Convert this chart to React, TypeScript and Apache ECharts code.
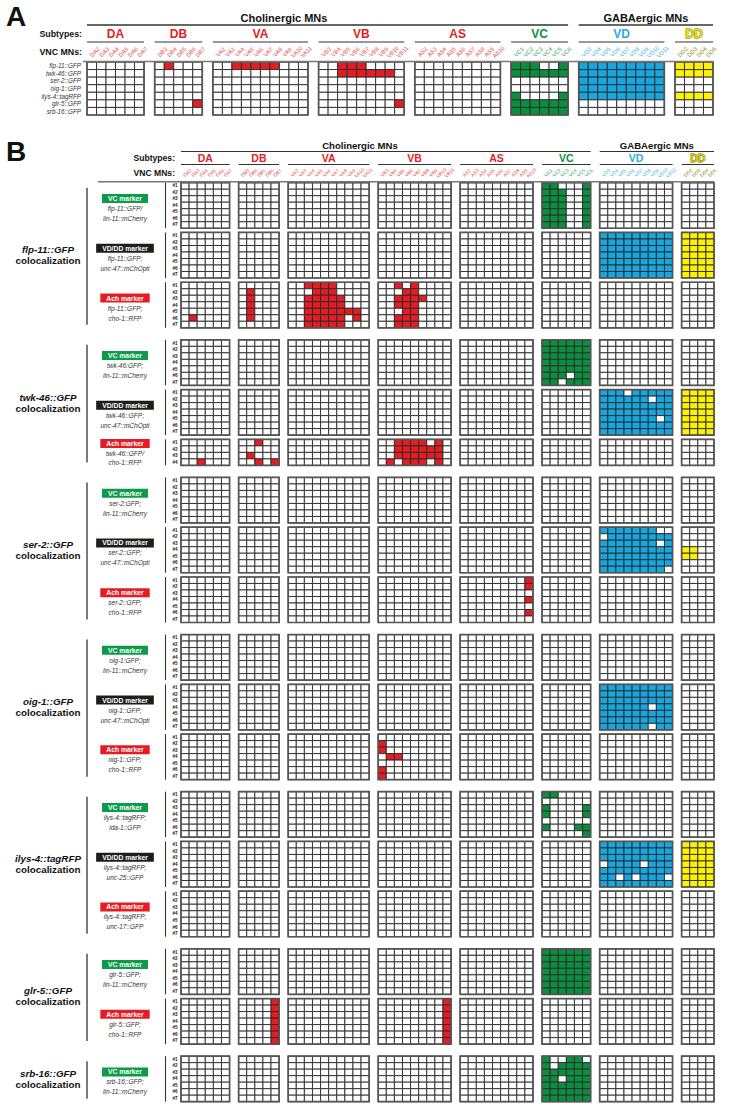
import { useEffect, useRef } from "react";
import * as echarts from "echarts";

// ---------- categories ----------
const SUBTYPES = ["DA", "DB", "VA", "VB", "AS", "VC", "VD", "DD"];
const DA_MNS = ["DA2", "DA3", "DA4", "DA5", "DA6", "DA7"];
const DB_MNS = ["DB3", "DB4", "DB5", "DB6", "DB7"];
const VA_MNS = ["VA2", "VA3", "VA4", "VA5", "VA6", "VA7", "VA8", "VA9", "VA10", "VA11"];
const VB_MNS = ["VB3", "VB4", "VB5", "VB6", "VB7", "VB8", "VB9", "VB10", "VB11"];
const AS_MNS = ["AS2", "AS3", "AS4", "AS5", "AS6", "AS7", "AS8", "AS9", "AS10"];
const VC_MNS = ["VC1", "VC2", "VC3", "VC4", "VC5", "VC6"];
const VD_MNS = ["VD3", "VD4", "VD5", "VD6", "VD7", "VD8", "VD9", "VD10", "VD11"];
const DD_MNS = ["DD2", "DD3", "DD4", "DD5"];
const MNS = [DA_MNS, DB_MNS, VA_MNS, VB_MNS, AS_MNS, VC_MNS, VD_MNS, DD_MNS];

// ---------- panel A ----------
const PANEL_A_REPORTERS = ["flp-11::GFP", "twk-46::GFP", "ser-2::GFP", "oig-1::GFP", "ilys-4::tagRFP", "glr-5::GFP", "srb-16::GFP"];
// segments: DA DB VA VB AS VC VD DD ; '#' = expressed
const PANEL_A_CELLS = [
  "...... .#... ..#####... ..###.... ......... ###..# ######### ####",
  "...... ..... .......... ..######. ......... ###### ######### ####",
  "...... ..... .......... ......... ......... ...... ######### ....",
  "...... ..... .......... ......... ......... ...... ######### ....",
  "...... ..... .......... ......... ......... #....# ######### ####",
  "...... ....# .......... ........# ......... ###### ......... ....",
  "...... ..... .......... ......... ......... ###### ......... ....",
];

// ---------- panel B ----------
const EMPTY_ROW = "...... ..... .......... ......... ......... ...... ......... ....";
const FLP11_VC = [
  "...... ..... .......... ......... ......... ##...# ......... ....",
  "...... ..... .......... ......... ......... ###..# ......... ....",
  "...... ..... .......... ......... ......... ###..# ......... ....",
  "...... ..... .......... ......... ......... ###..# ......... ....",
  "...... ..... .......... ......... ......... ###..# ......... ....",
  "...... ..... .......... ......... ......... ###..# ......... ....",
  "...... ..... .......... ......... ......... ###..# ......... ....",
];
const FLP11_VDDD = [
  "...... ..... .......... ......... ......... ...... ######### ####",
  "...... ..... .......... ......... ......... ...... ######### ####",
  "...... ..... .......... ......... ......... ...... ######### ####",
  "...... ..... .......... ......... ......... ...... ######### ####",
  "...... ..... .......... ......... ......... ...... ######### ####",
  "...... ..... .......... ......... ......... ...... ######### ####",
  "...... ..... .......... ......... ......... ...... ######### ####",
];
const FLP11_ACH = [
  "...... ..... ..####.... ..#.#.... ......... ...... ......... ....",
  "...... .#... ...###.... ...##.... ......... ...... ......... ....",
  "...... .#... ..#####... ..####... ......... ...... ......... ....",
  "...... .#... ..#####... ..###.... ......... ...... ......... ....",
  "...... .#... ..#######. ...##.... ......... ...... ......... ....",
  ".#.... .#... ..#####.#. ..###.... ......... ...... ......... ....",
  "...... ..... ..#####... ..###.... ......... ...... ......... ....",
];
const TWK46_VC = [
  "...... ..... .......... ......... ......... ###### ......... ....",
  "...... ..... .......... ......... ......... ###### ......... ....",
  "...... ..... .......... ......... ......... ###### ......... ....",
  "...... ..... .......... ......... ......... ###### ......... ....",
  "...... ..... .......... ......... ......... ###### ......... ....",
  "...... ..... .......... ......... ......... ###.## ......... ....",
  "...... ..... .......... ......... ......... ##.### ......... ....",
];
const TWK46_VDDD = [
  "...... ..... .......... ......... ......... ...... ###.##### ####",
  "...... ..... .......... ......... ......... ...... ######.## ####",
  "...... ..... .......... ......... ......... ...... ######### ####",
  "...... ..... .......... ......... ......... ...... ######### ####",
  "...... ..... .......... ......... ......... ...... #######.# ####",
  "...... ..... .......... ......... ......... ...... ######### ####",
  "...... ..... .......... ......... ......... ...... ######### ####",
];
const TWK46_ACH = [
  "...... ..#.. .......... ..####.#. ......... ...... ......... ....",
  "...... ..... .......... ..######. ......... ...... ......... ....",
  "...... .#... .......... ..######. ......... ...... ......... ....",
  "..#... ..#.# .......... .#.###.#. ......... ...... ......... ....",
];
const SER2_VC = [EMPTY_ROW, EMPTY_ROW, EMPTY_ROW, EMPTY_ROW, EMPTY_ROW, EMPTY_ROW, EMPTY_ROW];
const SER2_VDDD = [
  "...... ..... .......... ......... ......... ...... #######.. ....",
  "...... ..... .......... ......... ......... ...... .######## ....",
  "...... ..... .......... ......... ......... ...... #######.# ....",
  "...... ..... .......... ......... ......... ...... ######### ##..",
  "...... ..... .......... ......... ......... ...... ######### ##..",
  "...... ..... .......... ......... ......... ...... ######### ....",
  "...... ..... .......... ......... ......... ...... ########. ....",
];
const SER2_ACH = [
  "...... ..... .......... ......... ........# ...... ......... ....",
  "...... ..... .......... ......... ........# ...... ......... ....",
  "...... ..... .......... ......... ......... ...... ......... ....",
  "...... ..... .......... ......... ........# ...... ......... ....",
  "...... ..... .......... ......... ......... ...... ......... ....",
  "...... ..... .......... ......... ........# ...... ......... ....",
  "...... ..... .......... ......... ......... ...... ......... ....",
];
const OIG1_VC = [EMPTY_ROW, EMPTY_ROW, EMPTY_ROW, EMPTY_ROW, EMPTY_ROW, EMPTY_ROW, EMPTY_ROW];
const OIG1_VDDD = [
  "...... ..... .......... ......... ......... ...... ######### ....",
  "...... ..... .......... ......... ......... ...... ######### ....",
  "...... ..... .......... ......... ......... ...... ######### ....",
  "...... ..... .......... ......... ......... ...... ######.## ....",
  "...... ..... .......... ......... ......... ...... ######### ....",
  "...... ..... .......... ......... ......... ...... ######### ....",
  "...... ..... .......... ......... ......... ...... ######.## ....",
];
const OIG1_ACH = [
  "...... ..... .......... ......... ......... ...... ......... ....",
  "...... ..... .......... #........ ......... ...... ......... ....",
  "...... ..... .......... #........ ......... ...... ......... ....",
  "...... ..... .......... .##...... ......... ...... ......... ....",
  "...... ..... .......... ......... ......... ...... ......... ....",
  "...... ..... .......... #........ ......... ...... ......... ....",
  "...... ..... .......... #........ ......... ...... ......... ....",
];
const ILYS4_VC = [
  "...... ..... .......... ......... ......... ##.... ......... ....",
  "...... ..... .......... ......... ......... ...... ......... ....",
  "...... ..... .......... ......... ......... #....# ......... ....",
  "...... ..... .......... ......... ......... #....# ......... ....",
  "...... ..... .......... ......... ......... ...... ......... ....",
  "...... ..... .......... ......... ......... #...## ......... ....",
  "...... ..... .......... ......... ......... .....# ......... ....",
];
const ILYS4_VDDD = [
  "...... ..... .......... ......... ......... ...... ######### ####",
  "...... ..... .......... ......... ......... ...... ######### ####",
  "...... ..... .......... ......... ......... ...... ######### ####",
  "...... ..... .......... ......... ......... ...... .####.### ####",
  "...... ..... .......... ......... ......... ...... ######### ####",
  "...... ..... .......... ......... ......... ...... ##.#.###. ####",
  "...... ..... .......... ......... ......... ...... ######### ####",
];
const ILYS4_ACH = [EMPTY_ROW, EMPTY_ROW, EMPTY_ROW, EMPTY_ROW, EMPTY_ROW, EMPTY_ROW, EMPTY_ROW];
const GLR5_VC = [
  "...... ..... .......... ......... ......... ###### ......... ....",
  "...... ..... .......... ......... ......... ###### ......... ....",
  "...... ..... .......... ......... ......... ###### ......... ....",
  "...... ..... .......... ......... ......... ###### ......... ....",
  "...... ..... .......... ......... ......... ###### ......... ....",
  "...... ..... .......... ......... ......... ###### ......... ....",
  "...... ..... .......... ......... ......... ###### ......... ....",
];
const GLR5_ACH = [
  "...... ....# .......... ........# ......... ...... ......... ....",
  "...... ....# .......... ........# ......... ...... ......... ....",
  "...... ....# .......... ........# ......... ...... ......... ....",
  "...... ....# .......... ........# ......... ...... ......... ....",
  "...... ....# .......... ........# ......... ...... ......... ....",
  "...... ....# .......... ........# ......... ...... ......... ....",
  "...... ....# .......... ........# ......... ...... ......... ....",
];
const SRB16_VC = [
  "...... ..... .......... ......... ......... #..##. ......... ....",
  "...... ..... .......... ......... ......... #.#### ......... ....",
  "...... ..... .......... ......... ......... ###### ......... ....",
  "...... ..... .......... ......... ......... ##.### ......... ....",
  "...... ..... .......... ......... ......... ###### ......... ....",
  "...... ..... .......... ......... ......... ###### ......... ....",
  "...... ..... .......... ......... ......... ###### ......... ....",
];

const GROUP_NAMES = ["flp-11::GFP", "twk-46::GFP", "ser-2::GFP", "oig-1::GFP", "ilys-4::tagRFP", "glr-5::GFP", "srb-16::GFP"];
const BLOCK_CELLS = [FLP11_VC, FLP11_VDDD, FLP11_ACH, TWK46_VC, TWK46_VDDD, TWK46_ACH, SER2_VC, SER2_VDDD, SER2_ACH,
  OIG1_VC, OIG1_VDDD, OIG1_ACH, ILYS4_VC, ILYS4_VDDD, ILYS4_ACH, GLR5_VC, GLR5_ACH, SRB16_VC];
const BLOCK_GROUP = [0, 0, 0, 1, 1, 1, 2, 2, 2, 3, 3, 3, 4, 4, 4, 5, 5, 6];
const BLOCK_MARKER = ["VC", "VDDD", "ACH", "VC", "VDDD", "ACH", "VC", "VDDD", "ACH", "VC", "VDDD", "ACH", "VC", "VDDD", "ACH", "VC", "ACH", "VC"];
const BLOCK_LINE1 = ["flp-11::GFP/", "flp-11::GFP;", "flp-11::GFP;", "twk-46:GFP;", "twk-46::GFP;", "twk-46::GFP/", "ser-2:GFP;", "ser-2::GFP;", "ser-2::GFP;",
  "oig-1:GFP;", "oig-1::GFP;", "oig-1::GFP;", "ilys-4::tagRFP;", "ilys-4::tagRFP;", "ilys-4::tagRFP;", "glr-5::GFP;", "glr-5::GFP;", "srb-16::GFP;"];
const BLOCK_LINE2 = ["lin-11::mCherry", "unc-47::mChOpti", "cho-1::RFP", "lin-11::mCherry", "unc-47::mChOpti", "cho-1::RFP", "lin-11::mCherry", "unc-47::mChOpti", "cho-1::RFP",
  "lin-11::mCherry", "unc-47::mChOpti", "cho-1::RFP", "ida-1::GFP", "unc-25::GFP", "unc-17::GFP", "lin-11::mCherry", "cho-1::RFP", "lin-11::mCherry"];

// ---------- styling ----------
const FONT = "'Liberation Sans', Arial, Helvetica, sans-serif";
const RED = "#e41d25";
const GREEN = "#0b8f3f";
const BLUE = "#16a6e0";
const YELLOW = "#fff200";
const CELL_FILL = ["#ffffff", RED, GREEN, BLUE, YELLOW];
const SUBTYPE_FILL = [1, 1, 1, 1, 1, 2, 3, 4];
const SUBTYPE_TEXT = [RED, RED, RED, RED, RED, GREEN, "#29abe2", "#e8e000"];
const NEURON_TEXT = ["#ec4a52", "#ec4a52", "#ec4a52", "#ec4a52", "#ec4a52", "#2aa35a", "#3cb4e6", "#8c8a10"];
const MARKER_BG: Record<string, string> = { VC: "#0d9b4a", VDDD: "#1d1d1b", ACH: RED };
const MARKER_TEXT: Record<string, string> = { VC: "VC marker", VDDD: "VD/DD marker", ACH: "Ach marker" };

// ---------- layout ----------
const GAP = 1.12;
const COL_START: number[] = [];
let accX = 0;
MNS.forEach((m) => { COL_START.push(accX); accX += m.length + GAP; });
const X_MAX = accX - GAP;

const A_LEFT = 87, A_RIGHT = 713, A_TOP = 62, A_BOTTOM = 115;
const B_LEFT = 181, B_RIGHT = 714, B_TOP = 182.7, B_BOTTOM = 1101.7;
const INNER_GAP = 0.65, GROUP_GAP = 1.85;

const BLOCK_Y: number[] = [];
let accY = 0;
BLOCK_CELLS.forEach((rows, i) => {
  if (i > 0) accY += BLOCK_GROUP[i] === BLOCK_GROUP[i - 1] ? INNER_GAP : GROUP_GAP;
  BLOCK_Y.push(accY);
  accY += rows.length;
});
const Y_MAX_B = accY;

const xA = (u: number) => A_LEFT + (u * (A_RIGHT - A_LEFT)) / X_MAX;
const xB = (u: number) => B_LEFT + (u * (B_RIGHT - B_LEFT)) / X_MAX;
const yB = (v: number) => B_TOP + (v * (B_BOTTOM - B_TOP)) / Y_MAX_B;

function buildCells(rows: string[], y0: number, cells: number[][], frames: number[][]) {
  rows.forEach((row, r) => {
    const segs = row.split(" ");
    segs.forEach((seg, s) => {
      for (let c = 0; c < seg.length; c++) {
        cells.push([COL_START[s] + c, y0 + r, seg[c] === "#" ? SUBTYPE_FILL[s] : 0]);
      }
    });
  });
  MNS.forEach((m, s) => frames.push([COL_START[s], y0, m.length, rows.length]));
}

function txt(x: number, y: number, text: string, o: any = {}) {
  return {
    type: "text", x, y, silent: true, rotation: o.rotation || 0, z: 10,
    style: {
      text, fill: o.fill || "#111", fontSize: o.size || 8, fontFamily: FONT,
      fontWeight: o.bold ? "bold" : "normal", fontStyle: o.italic ? "italic" : "normal",
      align: o.align || "center", verticalAlign: o.va || "middle",
      stroke: o.stroke, lineWidth: o.lineWidth || 0,
      backgroundColor: o.bg, padding: o.padding,
    },
  };
}
function line(x1: number, y1: number, x2: number, y2: number, w = 1.2, c = "#333") {
  return { type: "line", silent: true, z: 10, shape: { x1, y1, x2, y2 }, style: { stroke: c, lineWidth: w } };
}

export default function App() {
  const ref = useRef<HTMLDivElement>(null);
  useEffect(() => {
    if (!ref.current) return;
    const chart = echarts.init(ref.current, undefined, { renderer: "svg", width: 729, height: 1115 });

    const cellsA: number[][] = [], framesA: number[][] = [];
    buildCells(PANEL_A_CELLS, 0, cellsA, framesA);
    const cellsB: number[][] = [], framesB: number[][] = [];
    BLOCK_CELLS.forEach((rows, i) => buildCells(rows, BLOCK_Y[i], cellsB, framesB));

    const cellRender = (_p: any, api: any) => {
      const x = api.value(0), y = api.value(1), f = api.value(2);
      const p0 = api.coord([x, y]);
      const p1 = api.coord([x + 1, y + 1]);
      return {
        type: "rect",
        shape: { x: p0[0], y: p0[1], width: p1[0] - p0[0], height: p1[1] - p0[1] },
        style: { fill: CELL_FILL[f], stroke: "#2a2a2a", lineWidth: 0.9 },
      };
    };
    const frameRender = (_p: any, api: any) => {
      const x = api.value(0), y = api.value(1), w = api.value(2), h = api.value(3);
      const p0 = api.coord([x, y]);
      const p1 = api.coord([x + w, y + h]);
      return {
        type: "rect",
        shape: { x: p0[0], y: p0[1], width: p1[0] - p0[0], height: p1[1] - p0[1] },
        style: { fill: "none", stroke: "#555", lineWidth: 1.7 },
      };
    };

    const g: any[] = [];
    // ---- Panel A header ----
    g.push(txt(6, 16, "A", { size: 28, bold: true, align: "left" }));
    g.push(txt(284, 18, "Cholinergic MNs", { size: 11, bold: true }));
    g.push(txt((xA(COL_START[6]) + A_RIGHT) / 2, 18, "GABAergic MNs", { size: 11, bold: true }));
    g.push(line(xA(0), 25, xA(COL_START[5] + 6), 25, 1.3));
    g.push(line(xA(COL_START[6]), 25, A_RIGHT, 25, 1.3));
    g.push(txt(82, 34, "Subtypes:", { size: 8.8, bold: true, align: "right" }));
    g.push(txt(82, 52, "VNC MNs:", { size: 8.8, bold: true, align: "right" }));
    SUBTYPES.forEach((s, i) => {
      const x0 = xA(COL_START[i]), x1 = xA(COL_START[i] + MNS[i].length);
      g.push(txt((x0 + x1) / 2, 33.5, s, {
        size: 12, bold: true, fill: SUBTYPE_TEXT[i],
        stroke: i === 7 ? "#6b6a00" : undefined, lineWidth: i === 7 ? 0.9 : 0,
      }));
      g.push(line(x0, 42, x1, 42, 1.2));
      MNS[i].forEach((n, c) => {
        g.push(txt(xA(COL_START[i] + c + 0.5) + 3, 52, n, { size: 5.8, fill: NEURON_TEXT[i], rotation: Math.PI / 4 }));
      });
    });
    g.push(line(83, 61.5, A_RIGHT, 61.5, 1.4, "#777"));
    PANEL_A_REPORTERS.forEach((r, i) => {
      g.push(txt(81, A_TOP + ((i + 0.5) * (A_BOTTOM - A_TOP)) / 7, r, { size: 6.3, italic: true, align: "right", fill: "#333" }));
    });

    // ---- Panel B header ----
    g.push(txt(6, 151, "B", { size: 28, bold: true, align: "left" }));
    g.push(txt(360, 145, "Cholinergic MNs", { size: 9.6, bold: true }));
    g.push(txt((xB(COL_START[6]) + B_RIGHT) / 2, 145, "GABAergic MNs", { size: 9.6, bold: true }));
    g.push(line(xB(0), 151.5, xB(COL_START[5] + 6), 151.5, 1.2));
    g.push(line(xB(COL_START[6]), 151.5, B_RIGHT, 151.5, 1.2));
    g.push(txt(175, 158, "Subtypes:", { size: 8.6, bold: true, align: "right" }));
    g.push(txt(175, 172.5, "VNC MNs:", { size: 8.6, bold: true, align: "right" }));
    SUBTYPES.forEach((s, i) => {
      const x0 = xB(COL_START[i]), x1 = xB(COL_START[i] + MNS[i].length);
      g.push(txt((x0 + x1) / 2, 157.5, s, {
        size: 10.5, bold: true, fill: i === 7 ? "#d9d000" : SUBTYPE_TEXT[i],
        stroke: i === 7 ? "#5e5d00" : undefined, lineWidth: i === 7 ? 0.8 : 0,
      }));
      g.push(line(x0, 164.5, x1, 164.5, 1.1));
      MNS[i].forEach((n, c) => {
        g.push(txt(xB(COL_START[i] + c + 0.5) + 2.5, 173, n, { size: 4.8, fill: NEURON_TEXT[i], rotation: Math.PI / 4 }));
      });
    });
    g.push(line(98, 181.7, B_RIGHT, 181.7, 1.4, "#777"));

    // ---- Panel B left labels ----
    BLOCK_CELLS.forEach((rows, i) => {
      const top = yB(BLOCK_Y[i]);
      const bottom = yB(BLOCK_Y[i] + rows.length);
      const mid = (top + bottom) / 2;
      const small = rows.length < 7;
      g.push(txt(125, mid - (small ? 9 : 7), MARKER_TEXT[BLOCK_MARKER[i]], {
        size: 6.8, bold: true, fill: "#fff", bg: MARKER_BG[BLOCK_MARKER[i]], padding: [1.2, 6, 0.8, 6],
      }));
      g.push(txt(125, mid + (small ? 1.5 : 3), BLOCK_LINE1[i], { size: 6.5, italic: true, fill: "#333" }));
      g.push(txt(125, mid + (small ? 10 : 13), BLOCK_LINE2[i], { size: 6.5, italic: true, fill: "#333" }));
      g.push(line(165.5, top, 165.5, bottom, 1.1));
      rows.forEach((_r, r) => {
        g.push(txt(177.5, yB(BLOCK_Y[i] + r + 0.5), "#" + (r + 1), { size: 4.6, bold: true, align: "right", fill: "#222" }));
      });
    });
    GROUP_NAMES.forEach((name, gi) => {
      const idx = BLOCK_GROUP.map((v, i) => (v === gi ? i : -1)).filter((i) => i >= 0);
      const first = idx[0], last = idx[idx.length - 1];
      const top = yB(BLOCK_Y[first]);
      const bottom = yB(BLOCK_Y[last] + BLOCK_CELLS[last].length);
      const mid = (top + bottom) / 2;
      g.push(txt(48, mid - 5.5, name, { size: 9.8, bold: true, italic: true }));
      g.push(txt(48, mid + 5.5, "colocalization", { size: 9.8, bold: true }));
      g.push(line(87, top + 5, 87, bottom - 3, 1.3));
    });

    chart.setOption({
      animation: false,
      backgroundColor: "#ffffff",
      grid: [
        { left: A_LEFT, top: A_TOP, width: A_RIGHT - A_LEFT, height: A_BOTTOM - A_TOP },
        { left: B_LEFT, top: B_TOP, width: B_RIGHT - B_LEFT, height: B_BOTTOM - B_TOP },
      ],
      xAxis: [
        { type: "value", gridIndex: 0, min: 0, max: X_MAX, show: false },
        { type: "value", gridIndex: 1, min: 0, max: X_MAX, show: false },
      ],
      yAxis: [
        { type: "value", gridIndex: 0, min: 0, max: 7, inverse: true, show: false },
        { type: "value", gridIndex: 1, min: 0, max: Y_MAX_B, inverse: true, show: false },
      ],
      series: [
        { type: "custom", xAxisIndex: 0, yAxisIndex: 0, data: cellsA, renderItem: cellRender, silent: true },
        { type: "custom", xAxisIndex: 0, yAxisIndex: 0, data: framesA, renderItem: frameRender, silent: true, z: 3 },
        { type: "custom", xAxisIndex: 1, yAxisIndex: 1, data: cellsB, renderItem: cellRender, silent: true },
        { type: "custom", xAxisIndex: 1, yAxisIndex: 1, data: framesB, renderItem: frameRender, silent: true, z: 3 },
      ],
      graphic: { elements: g },
    });
    return () => chart.dispose();
  }, []);
  return <div ref={ref} style={{ position: "fixed", left: 0, top: 0, width: 729, height: 1115, background: "#fff" }} />;
}
